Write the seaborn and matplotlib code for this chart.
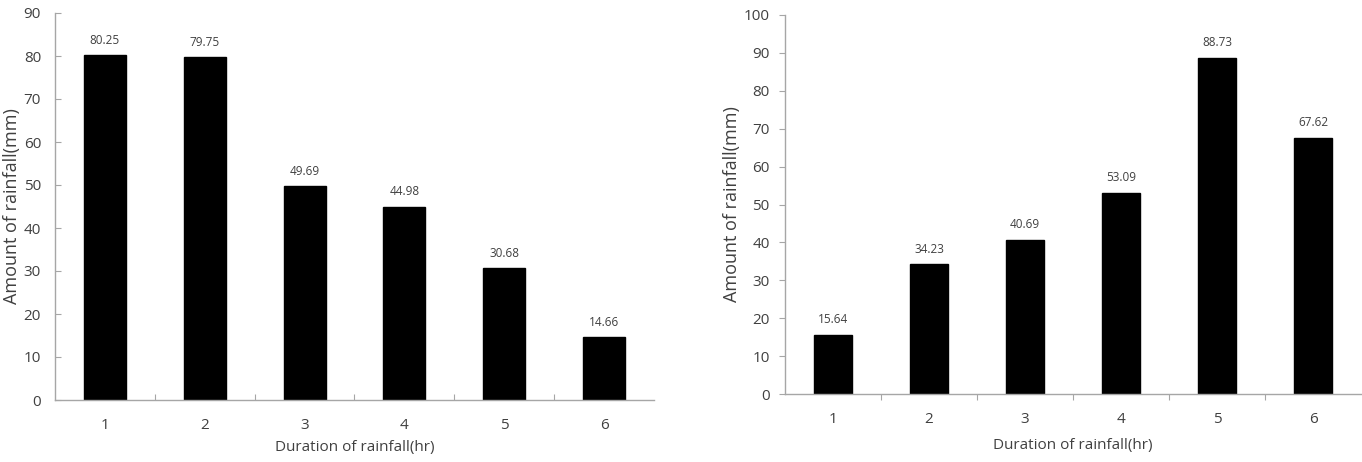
import matplotlib
matplotlib.use("Agg")
import matplotlib.pyplot as plt
import seaborn as sns
import pandas as pd
import numpy as np

durations = ["1", "2", "3", "4", "5", "6"]
left_values = [80.25, 79.75, 49.69, 44.98, 30.68, 14.66]
right_values = [15.64, 34.23, 40.69, 53.09, 88.73, 67.62]
left_yticks = list(range(0, 91, 10))
right_yticks = list(range(0, 101, 10))
xlabel = "Duration of rainfall(hr)"
ylabel = "Amount of rainfall(mm)"

sns.set_theme(style="white")
plt.rcParams['font.family'] = ['Open Sans', 'DejaVu Sans']

TXT = "#404040"
SP = "#a6a6a6"

fig = plt.figure(figsize=(13.62, 4.62), dpi=100)
ax1 = fig.add_axes([55/1362, 1-400/462, (654-55)/1362, (400-13)/462])
ax2 = fig.add_axes([785/1362, 1-394/462, (1361-785)/1362, (394-15)/462])

def draw(ax, values, yticks, width, tickdir, ypad, ylab_x, xlab_y):
    df = pd.DataFrame({"d": durations, "v": values})
    sns.barplot(data=df, x="d", y="v", ax=ax, color="black", width=width,
                edgecolor="black", saturation=1)
    ax.set_xlim(-0.5, len(durations) - 0.5)
    ax.set_ylim(yticks[0], yticks[-1])
    ax.set_yticks(yticks)
    ax.set_yticklabels([str(t) for t in yticks], color=TXT, fontsize=11)
    ax.set_xticks(range(len(durations)))
    ax.set_xticklabels(durations, color=TXT, fontsize=11)
    ax.tick_params(axis="x", length=0, pad=13)
    ax.set_xticks(np.arange(0.5, len(durations) - 0.5, 1.0), minor=True)
    ax.tick_params(axis="x", which="minor", direction=tickdir, length=4, color=SP, width=0.8, bottom=True)
    ax.tick_params(axis="y", direction=tickdir, length=4, color=SP, width=0.8, left=True, pad=ypad)
    for s in ["top", "right"]:
        ax.spines[s].set_visible(False)
    for s in ["left", "bottom"]:
        ax.spines[s].set_color(SP)
        ax.spines[s].set_linewidth(1.0)
    ax.set_xlabel(xlabel, color=TXT, fontsize=11)
    ax.set_ylabel(ylabel, color=TXT, fontsize=13)
    ax.yaxis.set_label_coords(ylab_x, 0.5)
    ax.xaxis.set_label_coords(0.5, xlab_y)
    for i, v in enumerate(values):
        ax.annotate(f"{v:.2f}", (i, v), xytext=(0, 6), textcoords="offset points",
                    ha="center", va="bottom", fontsize=8.5, color=TXT)

draw(ax1, left_values, left_yticks, 0.42, "in", 10, -0.057, -0.103)
draw(ax2, right_values, right_yticks, 0.40, "out", 7, -0.076, -0.116)

fig.savefig("out.png", dpi=100)
